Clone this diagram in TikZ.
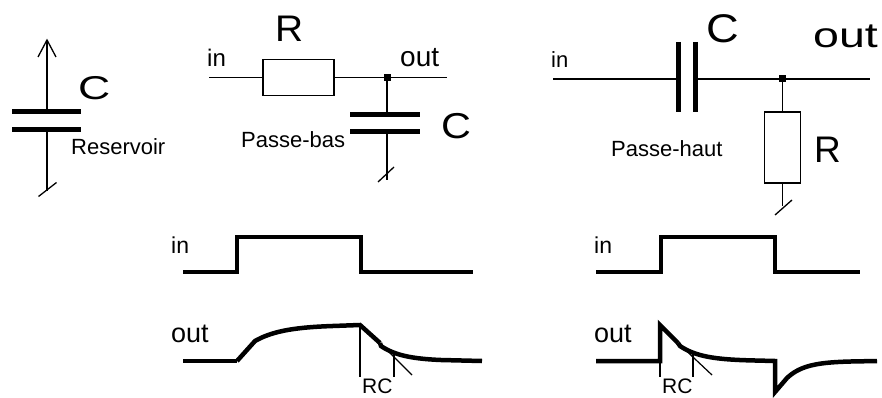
\documentclass[tikz,border=0pt]{standalone}
\usepackage{fontspec}
\setmainfont{Liberation Sans}
\usepackage{graphicx}
\begin{document}
\begin{tikzpicture}[x=1pt,y=-1pt,
  wire/.style={line width=1.3pt},
  plate/.style={line width=5pt},
  sig/.style={line width=4.5pt, line join=miter},
  fine/.style={line width=1.2pt},
  lbl/.style={inner sep=0pt, anchor=base west},
  resbox/.style={draw, line width=1.3pt, inner sep=0pt},
  jdot/.style={fill, rectangle, minimum size=7pt, inner sep=0pt},
  fa/.style={font=\fontsize{22}{24}\selectfont},
  fin/.style={font=\fontsize{24}{26}\selectfont}]
\useasboundingbox (0,0) rectangle (882,398);

% ---------- Reservoir capacitor ----------
\coordinate (rtop) at (47,40);
\coordinate (rp1) at (47,111.5);
\coordinate (rp2) at (47,130);
\coordinate (rbot) at (47,191);
\draw[wire] (rtop) -- (rp1);
\draw[wire] (rp2) -- (rbot);
\draw[wire] (38,57) -- (rtop) -- (56,57);
\draw[plate] (12,111.5) -- (81,111.5);
\draw[plate] (12,130) -- (81,130);
\draw[wire] (38.5,196.5) -- (56.5,182.5);
\node[lbl, font=\fontsize{33}{35}\selectfont] (cres) at (78,100) {\scalebox{1.35}[1]{C}};
\node[lbl, fa] (reslbl) at (71,155) {Reservoir};

% ---------- Low-pass ----------
\coordinate (lin) at (209,77.5);
\node[resbox, minimum width=71pt, minimum height=36pt] (lres) at (298.5,77.5) {};
\node[jdot] (ljn) at (387,77.5) {};
\coordinate (lout) at (447,77.5);
\coordinate (lc1) at (387,114.5);
\coordinate (lc2) at (387,131.5);
\coordinate (lgnd) at (387,180);
\draw[wire] (lin) -- (lres.west);
\draw[wire] (lres.east) -- (ljn.center) -- (lout);
\draw[wire] (ljn.center) -- (lc1);
\draw[wire] (lc2) -- (lgnd);
\draw[plate] (350,114.5) -- (420,114.5);
\draw[plate] (350,131.5) -- (420,131.5);
\draw[wire] (378,182) -- (394,167);
\node[lbl, fin] (lpin) at (207,67) {in};
\node[lbl, font=\fontsize{37}{39}\selectfont] (lpR) at (275,42) {\scalebox{1.05}[1]{R}};
\node[lbl, font=\fontsize{28}{30}\selectfont] (lpout) at (400,67) {out};
\node[lbl, fa] (lpname) at (241,147) {Passe-bas};
\node[lbl, font=\fontsize{36}{38}\selectfont] (lpC) at (441,139) {\scalebox{1.15}[1]{C}};

% ---------- High-pass ----------
\coordinate (hin) at (553,79);
\coordinate (hc1) at (678.5,79);
\coordinate (hc2) at (695.5,79);
\node[jdot] (hjn) at (782.5,79) {};
\coordinate (hout) at (870,79);
\node[resbox, minimum width=36pt, minimum height=71pt] (hres) at (782.5,147.5) {};
\coordinate (hgnd) at (782.5,206);
\draw[wire] (hin) -- (hc1);
\draw[wire] (hc2) -- (hjn.center) -- (hout);
\draw[wire] (hjn.center) -- (hres.north);
\draw[wire] (hres.south) -- (hgnd);
\draw[plate] (678.5,42) -- (678.5,112);
\draw[plate] (695.5,42) -- (695.5,112);
\draw[wire] (775,215) -- (792,200);
\node[lbl, fa] (hpin) at (551,68) {in};
\node[lbl, font=\fontsize{40}{42}\selectfont] (hpC) at (706,43) {\scalebox{1.13}[1]{C}};
\node[lbl, font=\fontsize{35}{37}\selectfont] (hpout) at (813,48) {\scalebox{1.33}[1]{out}};
\node[lbl, fa] (hpname) at (611,157) {Passe-haut};
\node[lbl, font=\fontsize{37}{39}\selectfont] (hpR) at (814,162) {R};

% ---------- Low-pass waveforms ----------
\node[lbl, font=\fontsize{23}{25}\selectfont] (win1) at (171,253) {in};
\node[lbl, font=\fontsize{27}{29}\selectfont] (wout1) at (171,342) {out};
\draw[sig] (183,272) -- (237,272) -- (237,237) -- (361,237) -- (361,272) -- (473,272);
\draw[sig] (183,361) -- (237,361);
\draw[sig] (237,361) -- (255,341) -- plot[domain=255:330,samples=30] (\x,{325+16*exp(-(\x-255)/28)}) -- (360,325) -- (380,343);
\draw[sig] (380,343) -- (381,346) -- plot[domain=381:440,samples=30] (\x,{361-15*exp(-(\x-381)/22)}) -- (482,361);
\draw[fine] (360,325) -- (360,377);
\draw[fine] (380,343) -- (412,375);
\draw[fine] (394,352) -- (394,377);
\node[lbl, font=\fontsize{21}{23}\selectfont] (rc1) at (362,393) {RC};

% ---------- High-pass waveforms ----------
\node[lbl, font=\fontsize{23}{25}\selectfont] (win2) at (594,253) {in};
\node[lbl, font=\fontsize{27}{29}\selectfont] (wout2) at (594,342) {out};
\draw[sig] (596,272) -- (661,272) -- (661,237) -- (775,237) -- (775,272) -- (860,272);
\draw[sig] (596,361) -- (660,361) -- (660,325) -- (678,343);
\draw[sig] (678,343) -- (680,346) -- plot[domain=680:750,samples=30] (\x,{361-15*exp(-(\x-680)/22)}) -- (775,361) -- (775,392) -- (787,378) -- plot[domain=787:850,samples=30] (\x,{361+17*exp(-(\x-787)/18)}) -- (877,361);
\draw[fine] (660,361) -- (660,377);
\draw[fine] (678,343) -- (712,375);
\draw[fine] (693,352) -- (693,377);
\node[lbl, font=\fontsize{21}{23}\selectfont] (rc2) at (662,393) {RC};
\end{tikzpicture}
\end{document}
